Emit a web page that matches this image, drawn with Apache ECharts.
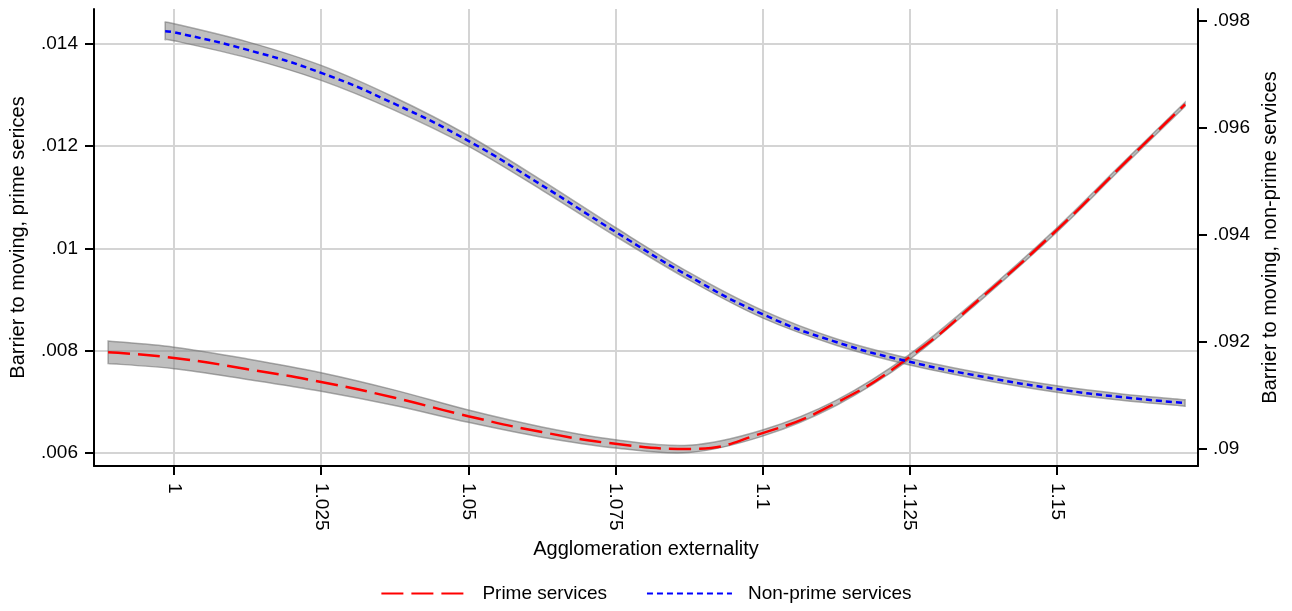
<!DOCTYPE html>
<html>
<head>
<meta charset="utf-8">
<script src="https://cdn.jsdelivr.net/npm/echarts@6/dist/echarts.min.js"></script>
<style>
  html, body { margin: 0; padding: 0; background: #fff; }
  #chart { width: 1292px; height: 611px; }
</style>
</head>
<body>
<div id="chart"></div>
<script>
// x values (agglomeration externality)
const primeX = [0.9888, 1.0, 1.0125, 1.025, 1.0375, 1.05, 1.0625, 1.075, 1.0875, 1.1, 1.1125, 1.125, 1.1375, 1.15, 1.161, 1.1718];
const primeY = [0.00797, 0.00786, 0.00764, 0.00739, 0.00708, 0.00672, 0.00641, 0.00618, 0.00608, 0.00639, 0.00698, 0.00788, 0.00907, 0.01036, 0.01161, 0.01282];
// half width of the confidence band
const primeCI = [0.00022, 0.00021, 0.0002, 0.00018, 0.00015, 0.00012, 0.0001, 0.00008, 0.00007, 0.00006, 0.00005, 0.00005, 0.00004, 0.00004, 0.00004, 0.00004];

const nonPrimeX = [0.9985, 1.0, 1.0125, 1.025, 1.0375, 1.05, 1.0625, 1.075, 1.0875, 1.1, 1.1125, 1.125, 1.1375, 1.15, 1.161, 1.1718];
const nonPrimeY = [0.09781, 0.09779, 0.09746, 0.09703, 0.09645, 0.09576, 0.09493, 0.09406, 0.09323, 0.09252, 0.092, 0.09163, 0.09135, 0.09112, 0.09097, 0.09086];
const nonPrimeCI = [0.00016, 0.00016, 0.00015, 0.00014, 0.00012, 0.0001, 0.00009, 0.00008, 0.00007, 0.00007, 0.00006, 0.00006, 0.00006, 0.00006, 0.00006, 0.00006];

const xTicks = [1, 1.025, 1.05, 1.075, 1.1, 1.125, 1.15];
const leftTicks = [0.006, 0.008, 0.01, 0.012, 0.014];
const rightTicks = [0.09, 0.092, 0.094, 0.096, 0.098];

const FONT = "Liberation Sans, Arial, sans-serif";
const noZero = v => String(+v.toFixed(4)).replace(/^0\./, '.');

// smooth path through pixel points (catmull-rom -> bezier)
function curve(pts, start) {
  let d = start ? 'M' + pts[0][0] + ',' + pts[0][1] : 'L' + pts[0][0] + ',' + pts[0][1];
  for (let i = 0; i < pts.length - 1; i++) {
    const p0 = pts[Math.max(i - 1, 0)], p1 = pts[i], p2 = pts[i + 1], p3 = pts[Math.min(i + 2, pts.length - 1)];
    const c1 = [p1[0] + (p2[0] - p0[0]) / 6, p1[1] + (p2[1] - p0[1]) / 6];
    const c2 = [p2[0] - (p3[0] - p1[0]) / 6, p2[1] - (p3[1] - p1[1]) / 6];
    d += 'C' + c1.join(',') + ' ' + c2.join(',') + ' ' + p2.join(',');
  }
  return d;
}

function bandSeries(name, xs, ys, ci, axis) {
  return {
    name: name, type: 'custom', yAxisIndex: axis, silent: true, z: 1,
    data: xs.map((x, i) => [x, ys[i]]),
    renderItem: function (params, api) {
      if (params.dataIndex !== 0) return;
      const up = xs.map((x, i) => api.coord([x, ys[i] + ci[i]]));
      const lo = xs.map((x, i) => api.coord([x, ys[i] - ci[i]])).reverse();
      return {
        type: 'path',
        shape: { pathData: curve(up, true) + curve(lo, false) + 'Z' },
        style: { fill: 'rgba(128,128,128,0.5)', stroke: 'rgba(105,105,105,0.55)', lineWidth: 1.5 }
      };
    }
  };
}

const axisCommon = {
  axisLine: { show: true, lineStyle: { color: '#000', width: 2 } },
  axisTick: { show: true, length: 9, lineStyle: { color: '#000', width: 2 } },
  nameTextStyle: { fontFamily: FONT, fontSize: 20, color: '#000' }
};
const labelStyle = { fontFamily: FONT, fontSize: 19, color: '#000' };

const chart = echarts.init(document.getElementById('chart'));
chart.setOption({
  animation: false,
  grid: { left: 92, right: 94, top: 9, bottom: 145, containLabel: false },
  legend: {
    bottom: 3,
    left: 'center',
    itemWidth: 85,
    itemHeight: 14,
    itemGap: 39,
    itemStyle: { opacity: 0 },
    data: ['Prime services', 'Non-prime services'],
    textStyle: { fontFamily: FONT, fontSize: 19, color: '#000', padding: [0, 0, 0, 11] }
  },
  xAxis: Object.assign({}, axisCommon, {
    type: 'value',
    min: 0.9864, max: 1.174,
    name: 'Agglomeration externality',
    nameLocation: 'middle', nameGap: 73,
    axisTick: Object.assign({}, axisCommon.axisTick, { customValues: xTicks }),
    axisLabel: Object.assign({ customValues: xTicks, rotate: -90, margin: 17 }, labelStyle),
    splitLine: { show: true, lineStyle: { color: '#d4d4d4', width: 2 } }
  }),
  yAxis: [
    Object.assign({}, axisCommon, {
      type: 'value', position: 'left',
      min: 0.005746, max: 0.014684,
      name: 'Barrier to moving, prime serices',
      nameLocation: 'middle', nameGap: 66,
      axisTick: Object.assign({}, axisCommon.axisTick, { customValues: leftTicks }),
      axisLabel: Object.assign({ customValues: leftTicks, formatter: noZero, margin: 16 }, labelStyle),
      splitLine: { show: true, lineStyle: { color: '#d4d4d4', width: 2 } }
    }),
    Object.assign({}, axisCommon, {
      type: 'value', position: 'right',
      min: 0.089682, max: 0.098224,
      name: 'Barrier to moving, non-prime services',
      nameLocation: 'middle', nameGap: 62,
      axisTick: Object.assign({}, axisCommon.axisTick, { customValues: rightTicks }),
      axisLabel: Object.assign({ customValues: rightTicks, formatter: noZero, margin: 15 }, labelStyle),
      splitLine: { show: false }
    })
  ],
  series: [
    bandSeries('primeBand', primeX, primeY, primeCI, 0),
    bandSeries('nonPrimeBand', nonPrimeX, nonPrimeY, nonPrimeCI, 1),
    {
      name: 'Prime services', type: 'line', yAxisIndex: 0, smooth: 0.5,
      symbol: 'none', z: 5,
      data: primeX.map((x, i) => [x, primeY[i]]),
      itemStyle: { color: '#ff0000' },
      lineStyle: { color: '#ff0000', width: 2.5, type: [22, 8] }
    },
    {
      name: 'Non-prime services', type: 'line', yAxisIndex: 1, smooth: 0.5,
      symbol: 'none', z: 5,
      data: nonPrimeX.map((x, i) => [x, nonPrimeY[i]]),
      itemStyle: { color: '#0000ff' },
      lineStyle: { color: '#0000ff', width: 2.5, type: [6, 4] }
    }
  ]
});
</script>
</body>
</html>
